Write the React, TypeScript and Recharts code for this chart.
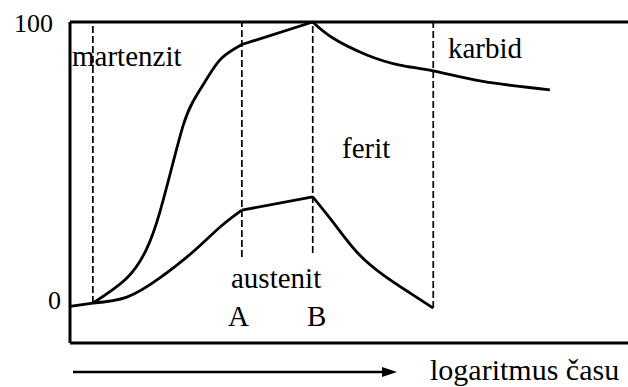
import React from "react";
import { LineChart, Line, XAxis, YAxis, ReferenceLine } from "recharts";

// x: log time (0..100 across the plot), y: percentage of phase
const startSegment = [
  { x: 0, y: -1 },
  { x: 4.1, y: 0.2 },
];

const upperRise = [
  { x: 4.1, y: 0.2 },
  { x: 10.2, y: 9.1 },
  { x: 13.8, y: 19.7 },
  { x: 16.1, y: 32.5 },
  { x: 18.5, y: 50.3 },
  { x: 20.3, y: 63.4 },
  { x: 22.0, y: 71.6 },
  { x: 24.6, y: 80.1 },
  { x: 27.2, y: 87.2 },
  { x: 30.8, y: 92.0 },
];

const upperPlateau = [
  { x: 30.8, y: 92.0 },
  { x: 43.5, y: 100 },
];

const upperFall = [
  { x: 43.5, y: 100 },
  { x: 47.1, y: 94.3 },
  { x: 53.2, y: 88.3 },
  { x: 59.1, y: 84.7 },
  { x: 65.1, y: 82.6 },
  { x: 74.0, y: 78.9 },
  { x: 86.0, y: 75.9 },
];

const lowerRise = [
  { x: 4.1, y: 0.2 },
  { x: 10.2, y: 2.3 },
  { x: 16.1, y: 9.1 },
  { x: 22.0, y: 18.3 },
  { x: 26.9, y: 27.2 },
  { x: 30.8, y: 33.2 },
];

const lowerPlateau = [
  { x: 30.8, y: 33.2 },
  { x: 43.5, y: 37.9 },
];

const lowerFall = [
  { x: 43.5, y: 37.9 },
  { x: 47.1, y: 29.0 },
  { x: 51.4, y: 18.3 },
  { x: 56.1, y: 10.2 },
  { x: 60.9, y: 3.8 },
  { x: 65.1, y: -1.6 },
];

// dashed phase boundaries: [x, lower end, upper end]
const boundaries: [number, number, number][] = [
  [4.1, 0.2, 100],
  [30.8, 16.5, 100],
  [43.5, 18.0, 100],
  [65.1, -1.6, 100],
];

const yTicks = [0, 100];

const FONT = "Liberation Serif";

const YTick = (props: any) => {
  const { y, payload } = props;
  const top = payload.value === 100;
  return (
    <text
      x={top ? 53 : 61}
      y={top ? y + 1 : y - 3}
      textAnchor="end"
      dominantBaseline="central"
      style={{ fontFamily: FONT, fontSize: 26 }}
      fill="#000"
    >
      {payload.value}
    </text>
  );
};

const solid = (data: { x: number; y: number }[], key: string, type: "natural" | "linear") => (
  <Line
    key={key}
    data={data}
    dataKey="y"
    type={type}
    stroke="#000"
    strokeWidth={2.8}
    dot={false}
    activeDot={false}
    isAnimationActive={false}
  />
);

const labelStyle = { fontFamily: FONT, fontSize: 29 };

export default function App() {
  return (
    <div style={{ position: "absolute", left: 0, top: 0, width: 628, height: 387, background: "#fff" }}>
      <LineChart width={628} height={387} margin={{ top: 22, right: 0, bottom: 0, left: 0 }}>
        <XAxis
          type="number"
          dataKey="x"
          domain={[0, 100]}
          height={44}
          tick={false}
          tickLine={false}
          axisLine={{ stroke: "#000", strokeWidth: 3 }}
        />
        <YAxis
          type="number"
          domain={[-14, 100]}
          ticks={yTicks}
          width={70}
          tick={<YTick />}
          tickLine={false}
          axisLine={{ stroke: "#000", strokeWidth: 3 }}
        />
        <ReferenceLine y={100} stroke="#000" strokeWidth={3} />
        {boundaries.map(([x, y0, y1], i) => (
          <Line
            key={`b${i}`}
            data={[{ x, y: y0 }, { x, y: y1 }]}
            dataKey="y"
            type="linear"
            stroke="#000"
            strokeWidth={1.7}
            strokeDasharray="7 3"
            dot={false}
            activeDot={false}
            isAnimationActive={false}
          />
        ))}
        {solid(startSegment, "s0", "linear")}
        {solid(upperRise, "u1", "natural")}
        {solid(upperPlateau, "u2", "linear")}
        {solid(upperFall, "u3", "natural")}
        {solid(lowerRise, "l1", "natural")}
        {solid(lowerPlateau, "l2", "linear")}
        {solid(lowerFall, "l3", "natural")}
      </LineChart>
      <svg
        width={628}
        height={387}
        style={{ position: "absolute", left: 0, top: 0, pointerEvents: "none" }}
        fill="#000"
      >
        <text x={72} y={66} style={labelStyle}>martenzit</text>
        <text x={448} y={58} style={labelStyle}>karbid</text>
        <text x={342} y={158} style={labelStyle}>ferit</text>
        <text x={231} y={288} style={labelStyle}>austenit</text>
        <text x={228} y={326} style={labelStyle}>A</text>
        <text x={307} y={326} style={labelStyle}>B</text>
        <line x1={73} y1={372} x2={384} y2={372} stroke="#000" strokeWidth={2.5} />
        <polygon points="382,367 397,372 382,377" fill="#000" />
        <text x={430} y={380} style={{ ...labelStyle, fontSize: 30 }}>logaritmus času</text>
      </svg>
    </div>
  );
}
